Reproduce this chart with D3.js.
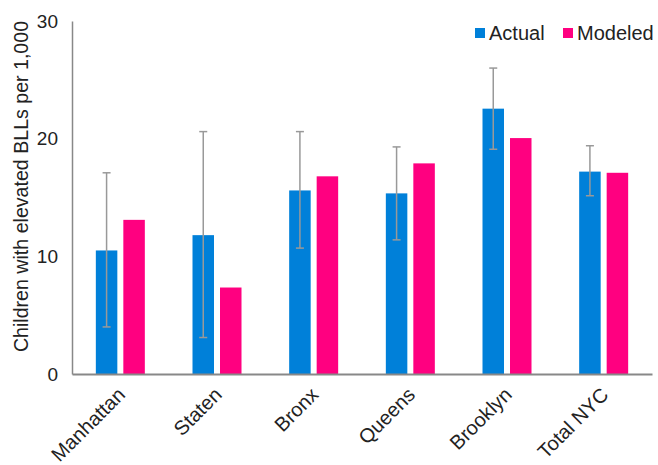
<!DOCTYPE html>
<html><head><meta charset="utf-8">
<script src="https://cdn.jsdelivr.net/npm/d3@7"></script>
<style>
body{margin:0;background:#fff;}
text{font-family:"Liberation Sans",Arial,sans-serif;}
</style></head>
<body><svg id="chart" width="658" height="465"></svg>
<script>
const categories = ["Manhattan","Staten","Bronx","Queens","Brooklyn","Total NYC"];
const seriesNames = ["Actual","Modeled"];
const actual = [10.5, 11.8, 15.6, 15.35, 22.55, 17.2];
const modeled = [13.1, 7.35, 16.8, 17.9, 20.05, 17.1];
const errLow = [4.0, 3.1, 10.7, 11.4, 19.1, 15.15];
const errHigh = [17.1, 20.6, 20.6, 19.3, 26.0, 19.4];
const yTicks = [0, 10, 20, 30];
const colors = ["#0080d9", "#ff0080"];

(function(){
const svg = d3.select("#chart");
const mLeft = 72, mRight = 652, mTop = 21, mBottom = 374;

const x = d3.scaleBand().domain(categories).range([mLeft, mRight]).paddingInner(0).paddingOuter(0);
const y = d3.scaleLinear().domain([0, 30]).range([mBottom, mTop]);
const barW = 21.5, gap = 6;
const sub = d3.scaleOrdinal().domain(seriesNames).range([-(gap/2 + barW), gap/2]);

// bars
seriesNames.forEach((s, si) => {
  const arr = si === 0 ? actual : modeled;
  svg.append("g").selectAll("rect").data(categories).join("rect")
    .attr("x", (c) => x(c) + x.bandwidth()/2 + sub(s))
    .attr("y", (c, i) => y(arr[i]))
    .attr("width", barW)
    .attr("height", (c, i) => y(0) - y(arr[i]))
    .attr("fill", colors[si]);
});

// error bars
const eg = svg.append("g").attr("stroke", "#999").attr("stroke-width", 1.5);
categories.forEach((c, i) => {
  const cx = x(c) + x.bandwidth()/2 + sub("Actual") + barW/2;
  eg.append("line").attr("x1", cx).attr("x2", cx).attr("y1", y(errLow[i])).attr("y2", y(errHigh[i]));
  eg.append("line").attr("x1", cx-4).attr("x2", cx+4).attr("y1", y(errLow[i])).attr("y2", y(errLow[i]));
  eg.append("line").attr("x1", cx-4).attr("x2", cx+4).attr("y1", y(errHigh[i])).attr("y2", y(errHigh[i]));
});

// y axis
const yAxis = d3.axisLeft(y).tickValues(yTicks).tickSize(0).tickPadding(14);
const yg = svg.append("g").attr("transform", `translate(${mLeft},0)`).call(yAxis);
yg.select(".domain").attr("stroke", "#888").attr("stroke-width", 1.5);
yg.selectAll("text").attr("font-size", 19).attr("fill", "#222").attr("font-family", "Liberation Sans, Arial, sans-serif");

// x axis
const xAxis = d3.axisBottom(x).tickSize(0).tickFormat("");
const xg = svg.append("g").attr("transform", `translate(0,${mBottom})`).call(xAxis);
xg.select(".domain").attr("stroke", "#888").attr("stroke-width", 2);

svg.append("g").selectAll("text").data(categories).join("text")
  .attr("transform", c => `translate(${x(c) + x.bandwidth()/2 + 6},${mBottom + 22}) rotate(-45)`)
  .attr("text-anchor", "end")
  .attr("font-size", 20)
  .attr("fill", "#222")
  .text(c => c);

// y title
svg.append("text")
  .attr("transform", `translate(28,186.5) rotate(-90)`)
  .attr("text-anchor", "middle")
  .attr("font-size", 19.6)
  .attr("fill", "#222")
  .text("Children with elevated BLLs per 1,000");

// legend
const legX = [475, 563];
seriesNames.forEach((s, i) => {
  svg.append("rect").attr("x", legX[i]).attr("y", 28).attr("width", 10).attr("height", 10).attr("fill", colors[i]);
  svg.append("text").attr("x", legX[i] + 14).attr("y", 39.5).attr("font-size", 20).attr("fill", "#222").text(s);
});
})();
</script></body></html>
